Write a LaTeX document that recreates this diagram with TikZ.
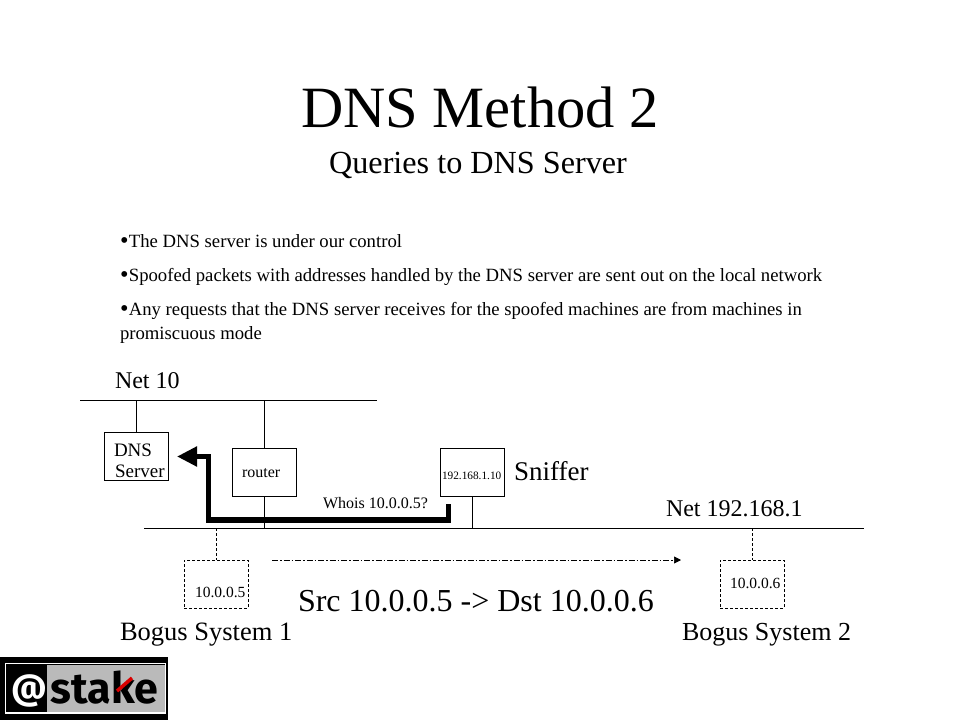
\documentclass[tikz,border=0pt]{standalone}
\usepackage{fontspec}
\setmainfont{Liberation Serif}
\newfontfamily\logofont{Fira Sans}
\usetikzlibrary{arrows.meta,calc}
\newcommand{\fs}[1]{\fontsize{#1}{#1}\selectfont}
\newcommand{\bul}{\raisebox{-0.09em}{\scalebox{1.3}{•}}\hspace{0.02em}}
\tikzset{
  x=1pt,y=-1pt,
  txt/.style={anchor=base west,inner sep=0pt,outer sep=0pt},
  ctr/.style={anchor=base,inner sep=0pt,outer sep=0pt},
  hostbox/.style={draw,line width=0.8pt,anchor=north west,inner sep=0pt,outer sep=0pt,minimum width=64.5pt,minimum height=48pt},
  dashbox/.style={draw,line width=0.7pt,dash pattern=on 3pt off 2pt,anchor=north west,inner sep=0pt,outer sep=0pt,minimum width=64pt,minimum height=48pt},
  wire/.style={line width=0.8pt},
  dashwire/.style={line width=0.7pt,dash pattern=on 3pt off 2pt},
  query/.style={line width=5.5pt,-{Triangle[length=20pt,width=19pt]}},
  flow/.style={line width=0.7pt,dash pattern=on 6pt off 2pt on 1.5pt off 2pt,-{Triangle[length=7pt,width=7pt]}}
}
\begin{document}
\begin{tikzpicture}
\useasboundingbox[fill=white] (0,0) rectangle (960,720);
% titles
\node[ctr] (title) at (480,127) {\fs{58.5}DNS Method 2};
\node[ctr] (sub) at (478,173) {\fs{32.2}Queries to DNS Server};
% bullets
\node[txt] (b1) at (120,247) {\fs{18.7}\bul The DNS server is under our control};
\node[txt] (b2) at (120,281) {\fs{18.7}\bul Spoofed packets with addresses handled by the DNS server are sent out on the local network};
\node[txt] (b3) at (120,315) {\fs{18.7}\bul Any requests that the DNS server receives for the spoofed machines are from machines in};
\node[txt] (b4) at (120,339) {\fs{18.7}promiscuous mode};
% nets
\coordinate (n1) at (80,400); \coordinate (n2) at (377,400);
\coordinate (m1) at (144,528); \coordinate (m2) at (864,528);
\draw[wire] (n1) -- (n2);
\draw[wire] (m1) -- (m2);
\node[txt] (net10) at (115,388) {\fs{24}Net 10};
\node[txt] (net192) at (666,516) {\fs{24}Net 192.168.1};
% boxes
\node[hostbox] (dns) at (104,432) {};
\node[hostbox] (router) at (232,448) {};
\node[hostbox] (sniff) at (440,448) {};
\node[dashbox] (bs1) at (184,560) {};
\node[dashbox] (bs2) at (720,560) {};
\node[txt] (dnst1) at (114,456) {\fs{19}DNS};
\node[txt] (dnst2) at (115,477) {\fs{19}Server};
\node[txt] (routert) at (242,477) {\fs{16}router};
\node[txt] (snifft) at (442,479) {\fs{11.3}192.168.1.10};
\node[txt] (sniffer) at (514,480) {\fs{27}Sniffer};
\node[txt] (whois) at (323,508) {\fs{16}Whois 10.0.0.5?};
\node[txt] (a1) at (195,597) {\fs{15.5}10.0.0.5};
\node[txt] (a2) at (730,588) {\fs{15.5}10.0.0.6};
\node[txt] (srcdst) at (298,611) {\fs{32}Src 10.0.0.5 -> Dst 10.0.0.6};
\node[txt] (bn1) at (120,640) {\fs{26.5}Bogus System 1};
\node[txt] (bn2) at (682,640) {\fs{26}Bogus System 2};
% drops
\draw[wire] (136.3,400) -- (136.3,432);
\draw[wire] (router.north |- n1) -- (router.north);
\draw[wire] (router.south) -- (router.south |- m1);
\draw[wire] (sniff.south) -- (sniff.south |- m1);
\draw[dashwire] (bs1.north |- m1) -- (bs1.north);
\draw[dashwire] (bs2.north |- m1) -- (bs2.north);
% arrows
\coordinate (qs) at (448.5,504); \coordinate (qc) at (208.3,520);
\draw[query] (qs) -- (qs |- qc) -- (qc) -- (208.3,456.5) -- (177,456.5);
\coordinate (fs) at (272,560); \coordinate (fe) at (681,560);
\draw[flow] (fs) -- (fe);
% logo
\fill[black] (0,657) rectangle (168,720);
\fill[black!27] (47,665) rectangle (165,712);
\draw[white,line width=1.6pt] (5.5,663.5) rectangle (165.5,713);
\node[ctr,white] (at) at (29,699) {\logofont\bfseries\fs{35}@};
\node[ctr,black] (stake) at (104.5,703) {\logofont\bfseries\fs{43}stake};
\draw[red!85!black,line width=3.5pt] (117,691) -- (132,678);
\end{tikzpicture}
\end{document}
